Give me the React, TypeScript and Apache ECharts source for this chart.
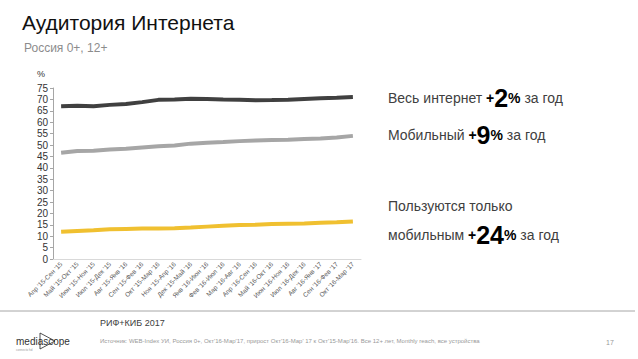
import React, { useEffect, useRef } from "react";
import * as echarts from "echarts";

const categories = [
  "Апр '15-Сен '15", "Май '15-Окт '15", "Июн '15-Ноя '15", "Июл '15-Дек '15",
  "Авг '15-Янв '16", "Сен '15-Фев '16", "Окт '15-Мар '16", "Ноя '15-Апр '16",
  "Дек '15-Май '16", "Янв '16-Июн '16", "Фев '16-Июл '16", "Мар '16-Авг '16",
  "Апр '16-Сен '16", "Май '16-Окт '16", "Июн '16-Ноя '16", "Июл '16-Дек '16",
  "Авг '16-Янв '17", "Сен '16-Фев '17", "Окт '16-Мар '17",
];
const allInternet = [67, 67.2, 67, 67.6, 68, 68.8, 69.8, 70, 70.3, 70.2, 70, 69.9, 69.6, 69.7, 69.9, 70.2, 70.5, 70.7, 71];
const mobile = [46.6, 47.4, 47.5, 48, 48.4, 48.9, 49.4, 49.8, 50.6, 51, 51.3, 51.7, 52, 52.2, 52.3, 52.6, 52.9, 53.3, 54];
const mobileOnly = [11.9, 12.3, 12.6, 13, 13.2, 13.4, 13.4, 13.5, 13.8, 14.2, 14.6, 14.9, 15, 15.3, 15.5, 15.6, 15.9, 16.1, 16.5];

const FONT = "'Liberation Sans', Arial, sans-serif";

export default function App() {
  const ref = useRef<HTMLDivElement>(null);
  useEffect(() => {
    document.body.style.margin = "0";
    const chart = echarts.init(ref.current!, null, { renderer: "svg" });
    const rich = {
      n: { fontSize: 14, fill: "#404040", color: "#404040", fontFamily: FONT },
      b: { fontSize: 25, fontWeight: "bold", color: "#404040", fontFamily: FONT },
      p: { fontSize: 14, fontWeight: "bold", color: "#404040", fontFamily: FONT },
    };
    const line = (name: string, data: number[], color: string) => ({
      name,
      type: "line",
      data,
      symbol: "none",
      lineStyle: { color, width: 4 },
      itemStyle: { color },
    });
    chart.setOption({
      animation: false,
      textStyle: { fontFamily: FONT },
      grid: { left: 53, right: 277, top: 88, bottom: 100 },
      xAxis: {
        type: "category",
        data: categories,
        boundaryGap: true,
        axisLine: { lineStyle: { color: "#d9d9d9" } },
        axisTick: { show: false },
        axisLabel: { rotate: 45, interval: 0, fontSize: 6.5, color: "#595959", margin: 4 },
      },
      yAxis: {
        type: "value",
        min: 0,
        max: 75,
        interval: 5,
        axisLine: { show: true, lineStyle: { color: "#a6a6a6" } },
        axisTick: { show: true, length: 3, lineStyle: { color: "#a6a6a6" } },
        axisLabel: { fontSize: 10, color: "#333", margin: 5 },
        splitLine: { show: false },
      },
      series: [
        line("Весь интернет", allInternet, "#404040"),
        line("Мобильный", mobile, "#a6a6a6"),
        line("Только мобильный", mobileOnly, "#f0c030"),
      ],
      graphic: [
        { type: "text", left: 22, top: 12, style: { text: "Аудитория Интернета", fontSize: 21, fill: "#111", fontFamily: FONT } },
        { type: "text", left: 24, top: 42, style: { text: "Россия 0+, 12+", fontSize: 12, fill: "#8c8c8c", fontFamily: FONT } },
        { type: "text", left: 37, top: 69, style: { text: "%", fontSize: 9, fill: "#333", fontFamily: FONT } },
        { type: "text", left: 388, top: 85, style: { text: "{n|Весь интернет }{p|+}{b|2}{p|%}{n| за год}", rich, verticalAlign: "top" } },
        { type: "text", left: 388, top: 122, style: { text: "{n|Мобильный }{p|+}{b|9}{p|%}{n| за год}", rich } },
        { type: "text", left: 388, top: 199, style: { text: "Пользуются только", fontSize: 14, fill: "#404040", fontFamily: FONT } },
        { type: "text", left: 388, top: 222, style: { text: "{n|мобильным }{p|+}{b|24}{p|%}{n| за год}", rich } },
        { type: "line", shape: { x1: 0, y1: 311, x2: 635, y2: 311 }, style: { stroke: "#a6a6a6", lineWidth: 1 } },
        { type: "text", left: 100, top: 318, style: { text: "РИФ+КИБ 2017", fontSize: 9, fill: "#404040", fontFamily: FONT } },
        { type: "text", left: 100, top: 338, style: { text: "Источник: WEB-Index УИ, Россия 0+, Окт'16-Мар'17, прирост Окт'16-Мар' 17 к Окт'15-Мар'16. Все 12+ лет, Monthly reach, все устройства", fontSize: 6, fill: "#999", fontFamily: FONT } },
        { type: "text", left: 606, top: 339, style: { text: "17", fontSize: 7, fill: "#999", fontFamily: FONT } },
        { type: "text", left: 16, top: 336, style: { text: "mediascope", fontSize: 10, fill: "#333", fontFamily: FONT } },
        { type: "polyline", shape: { points: [[40, 333], [40, 349], [55, 341], [40, 333]] }, style: { stroke: "#222", lineWidth: 0.8, fill: "none" } },
        { type: "text", left: 16, top: 348, style: { text: "connecto hd", fontSize: 3, fill: "#999", fontFamily: FONT } },
      ],
    });
    return () => chart.dispose();
  }, []);
  return <div ref={ref} style={{ width: 638, height: 359, position: "fixed", left: 0, top: 0, background: "#fff" }} />;
}
